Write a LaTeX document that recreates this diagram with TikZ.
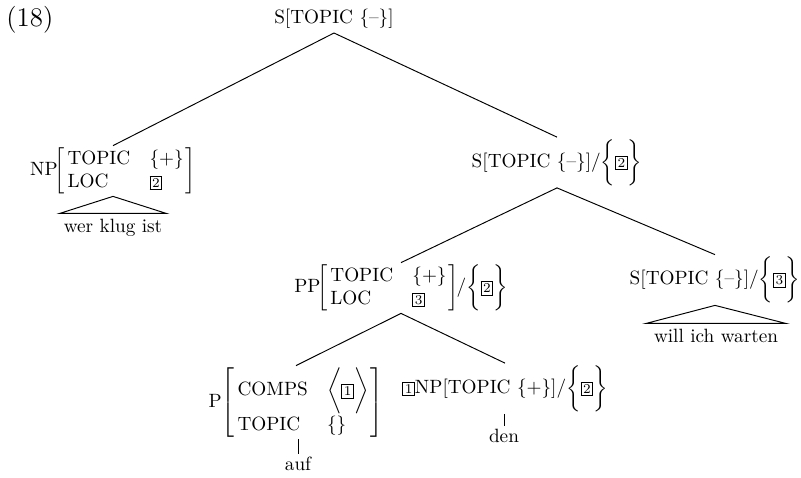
\documentclass[tikz,border=0pt]{standalone}
\newcommand{\tbx}[1]{{\setlength{\fboxsep}{0.9pt}\fbox{\scriptsize #1}}}
\newcommand{\avmrows}[4]{\!\left[\begin{array}{@{\hspace{1.5pt}}l@{\hspace{10pt}}l@{\hspace{1pt}}}\mbox{#1} & #2\\ \mbox{#3} & #4\end{array}\right]}
\begin{document}
\begin{tikzpicture}[x=0.52pt,y=-0.52pt,
  every node/.style={inner sep=1pt, font=\fontsize{10}{12}\selectfont},
  branch/.style={line width=0.5pt},
  leaf/.style={anchor=base, inner xsep=2pt, inner ysep=2.5pt}]
\useasboundingbox (0,0) rectangle (801,477);
\node[anchor=base west, inner sep=0pt, font=\fontsize{14}{16}\selectfont] (ex) at (6,26) {(18)};
% nodes
\node[anchor=base, inner ysep=2.5pt] (root) at (334,23) {S[TOPIC \{--\}]};
\node (np) at (113,171) {NP$\avmrows{TOPIC}{\{+\}}{LOC}{\tbx{2}}$};
\node[leaf] (wk) at (113,232) {wer klug ist};
\node (s2) at (557,162.5) {S[TOPIC \{--\}]/$\bigg\{\tbx{2}\bigg\}$};
\node (pp) at (401,288) {PP$\avmrows{TOPIC}{\{+\}}{LOC}{\tbx{3}}\mkern-5mu/\bigg\{\tbx{2}\bigg\}$};
\node (s3) at (715,280) {S[TOPIC \{--\}]/$\bigg\{\tbx{3}\bigg\}$};
\node[leaf, inner xsep=4pt] (wi) at (716,342) {will ich warten};
\node (p) at (296,402.5) {P$\left[\begin{array}{@{\hspace{1.5pt}}l@{\hspace{10pt}}l@{\hspace{1pt}}}\mbox{COMPS} & \bigg\langle\tbx{1}\bigg\rangle\\ \mbox{TOPIC} & \{\}\end{array}\right]$};
\node (np1) at (505,388.5) {\tbx{1}NP[TOPIC $\{+\}$]/$\bigg\{\tbx{2}\bigg\}$};
\node[anchor=base] (auf) at (298,470) {auf};
\node[anchor=base] (den) at (504,442) {den};
% connectors
\draw[branch] (root.south) -- (np.north);
\draw[branch] (root.south) -- (s2.north);
\draw[branch] (np.south) -- (wk.north west) -- (wk.north east) -- cycle;
\draw[branch] (s2.south) -- (pp.north);
\draw[branch] (s2.south) -- (s3.north);
\draw[branch] (s3.south) -- (wi.north west) -- (wi.north east) -- cycle;
\draw[branch] (pp.south) -- (p.north);
\draw[branch] (pp.south) -- (np1.north);
\draw[branch] (p.south -| auf.north) -- (auf.north);
\draw[branch] (np1.south -| den.north) -- (den.north);
\end{tikzpicture}
\end{document}
